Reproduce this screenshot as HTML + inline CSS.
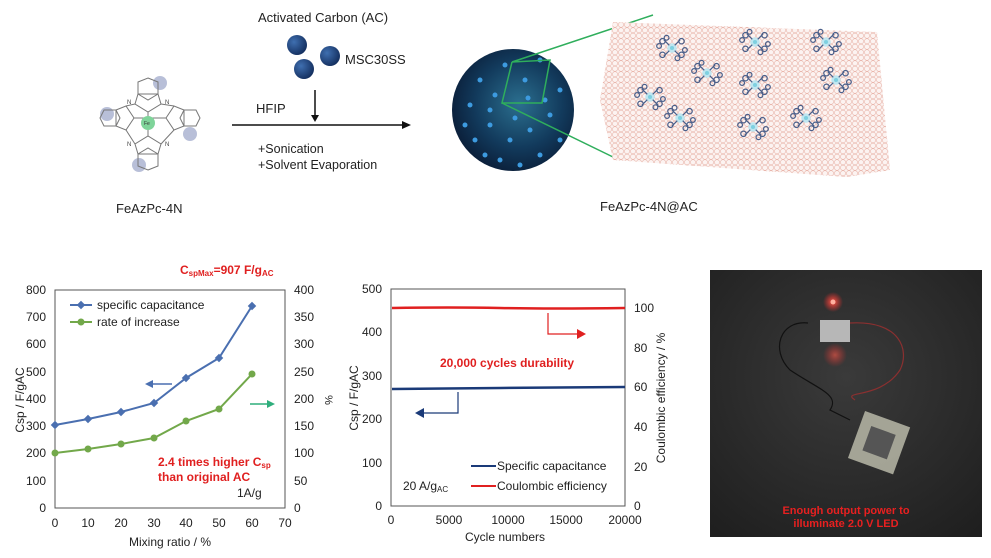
<!DOCTYPE html>
<html><head><meta charset="utf-8"><style>
body{margin:0;background:#fff;}
svg{display:block;font-family:"Liberation Sans",sans-serif;}
</style></head><body>
<svg width="991" height="558" viewBox="0 0 991 558" xmlns="http://www.w3.org/2000/svg">
<defs>
<radialGradient id="sph" cx="0.55" cy="0.45" r="0.6">
<stop offset="0" stop-color="#2b6f8f"/><stop offset="0.6" stop-color="#123a5c"/><stop offset="1" stop-color="#0a1c36"/></radialGradient>
<radialGradient id="ball" cx="0.35" cy="0.35" r="0.7"><stop offset="0" stop-color="#3f6fb0"/><stop offset="1" stop-color="#132e5e"/></radialGradient>
<pattern id="hex" width="6" height="5.5" patternUnits="userSpaceOnUse"><circle cx="3" cy="2.75" r="2.6" fill="none" stroke="#e9b7ad" stroke-width="0.6"/></pattern>
<radialGradient id="photo" cx="0.5" cy="0.4" r="0.75"><stop offset="0" stop-color="#3a3a3a"/><stop offset="1" stop-color="#1f1f1f"/></radialGradient>
<radialGradient id="glow" r="0.5"><stop offset="0" stop-color="#ff5a4a"/><stop offset="1" stop-color="#ff2a2a" stop-opacity="0"/></radialGradient>
<g id="mol0">
<circle r="7" fill="#bfe6f0"/>
<g stroke="#4a5f8a" stroke-width="1.8" fill="none">
<path d="M-4,-4 L-12,-12 M4,-4 L12,-12 M-4,4 L-12,12 M4,4 L12,12"/>
<circle cx="-14" cy="-10" r="4"/><circle cx="14" cy="-10" r="4"/><circle cx="-14" cy="10" r="4"/><circle cx="14" cy="10" r="4"/>
<circle cx="-8" cy="-15" r="3.5"/><circle cx="8" cy="15" r="3.5"/><circle cx="19" cy="3" r="3.5"/><circle cx="-19" cy="-3" r="3.5"/>
</g>
<circle r="3" fill="#7fd0e0"/>
</g>
<g id="mol"><use href="#mol0" transform="scale(0.68)"/></g>
</defs>

<!-- top scheme -->
<text x="258" y="22" font-size="13" fill="#222">Activated Carbon (AC)</text>
<circle cx="297" cy="45" r="10" fill="url(#ball)"/>
<circle cx="330" cy="56" r="10" fill="url(#ball)"/>
<circle cx="304" cy="69" r="10" fill="url(#ball)"/>
<text x="345" y="64" font-size="13" fill="#222">MSC30SS</text>
<line x1="315" y1="90" x2="315" y2="118" stroke="#111" stroke-width="1.5"/>
<polygon points="311,115 319,115 315,122" fill="#111"/>
<line x1="232" y1="125" x2="405" y2="125" stroke="#111" stroke-width="1.5"/>
<polygon points="402,121 411,125 402,129" fill="#111"/>
<text x="256" y="113" font-size="13" fill="#222">HFIP</text>
<text x="258" y="153" font-size="12.5" fill="#222">+Sonication</text>
<text x="258" y="169" font-size="12.5" fill="#222">+Solvent Evaporation</text>
<text x="116" y="213" font-size="13" fill="#222">FeAzPc-4N</text>

<!-- molecule -->
<circle cx="160" cy="83" r="7" fill="#b8bfd8"/>
<circle cx="107" cy="114" r="7" fill="#b8bfd8"/>
<circle cx="190" cy="134" r="7" fill="#b8bfd8"/>
<circle cx="139" cy="165" r="7" fill="#b8bfd8"/>
<g stroke="#777" stroke-width="1" fill="none">
<polygon points="148,78 158,82 158,94 148,100 138,94 138,82"/>
<polygon points="138,94 158,94 161,104 148,112 135,104"/>
<polygon points="100,118 104,110 116,110 120,118 116,126 104,126"/>
<polygon points="116,110 126,106 134,118 126,130 116,126"/>
<polygon points="180,118 184,110 196,110 200,118 196,126 184,126"/>
<polygon points="184,110 174,106 166,118 174,130 184,126"/>
<polygon points="148,170 158,166 158,154 148,148 138,154 138,166"/>
<polygon points="138,154 158,154 161,144 148,136 135,144"/>
<line x1="126" y1="106" x2="135" y2="104"/><line x1="161" y1="104" x2="174" y2="106"/>
<line x1="126" y1="130" x2="135" y2="144"/><line x1="161" y1="144" x2="174" y2="130"/>
<line x1="148" y1="112" x2="148" y2="136"/><line x1="134" y1="118" x2="166" y2="118"/>
</g>
<g font-size="6" fill="#444">
<text x="127" y="104">N</text><text x="165" y="104">N</text><text x="127" y="146">N</text><text x="165" y="146">N</text>
</g>
<circle cx="148" cy="123" r="7" fill="#7fd49a"/>
<text x="144" y="125" font-size="5" fill="#333">Fe</text>

<!-- sphere -->
<circle cx="513" cy="110" r="61" fill="url(#sph)"/>
<g fill="#3d9be0">
<circle cx="480" cy="80" r="2.5"/><circle cx="495" cy="95" r="2.5"/><circle cx="470" cy="105" r="2.5"/><circle cx="490" cy="125" r="2.5"/><circle cx="510" cy="140" r="2.5"/><circle cx="530" cy="130" r="2.5"/><circle cx="550" cy="115" r="2.5"/><circle cx="560" cy="90" r="2.5"/><circle cx="525" cy="80" r="2.5"/><circle cx="528" cy="98" r="2.5"/><circle cx="475" cy="140" r="2.5"/><circle cx="500" cy="160" r="2.5"/><circle cx="540" cy="155" r="2.5"/><circle cx="560" cy="140" r="2.5"/><circle cx="465" cy="125" r="2.5"/><circle cx="505" cy="65" r="2.5"/><circle cx="540" cy="60" r="2.5"/><circle cx="515" cy="118" r="2.5"/><circle cx="485" cy="155" r="2.5"/><circle cx="520" cy="165" r="2.5"/><circle cx="545" cy="100" r="2.5"/><circle cx="490" cy="110" r="2.5"/>
</g>
<polyline points="653,15 512,62 550,60 542,103 502,103 512,62" fill="none" stroke="#2fae5c" stroke-width="1.5"/>
<line x1="502" y1="103" x2="613" y2="157" stroke="#2fae5c" stroke-width="1.5"/>
<!-- sheet -->
<polygon points="613,22 877,32 890,170 847,177 613,160 600,100" fill="#fcf3f1"/>
<polygon points="613,22 877,32 890,170 847,177 613,160 600,100" fill="url(#hex)"/>
<use href="#mol" x="672" y="48"/><use href="#mol" x="755" y="42"/><use href="#mol" x="826" y="42"/>
<use href="#mol" x="707" y="73"/><use href="#mol" x="755" y="85"/><use href="#mol" x="836" y="80"/>
<use href="#mol" x="650" y="97"/><use href="#mol" x="680" y="118"/><use href="#mol" x="753" y="127"/><use href="#mol" x="806" y="118"/>
<text x="600" y="211" font-size="13" fill="#222">FeAzPc-4N@AC</text>

<!-- left chart -->
<text x="180" y="274" font-size="12" font-weight="bold" fill="#e02020">C<tspan font-size="8" dy="2">spMax</tspan><tspan dy="-2">=907 F/g</tspan><tspan font-size="8" dy="2">AC</tspan></text>
<rect x="55" y="290" width="230" height="218" fill="none" stroke="#555" stroke-width="1"/>
<g font-size="12" fill="#222" text-anchor="end">
<text x="46" y="512">0</text><text x="46" y="485">100</text><text x="46" y="457">200</text><text x="46" y="430">300</text><text x="46" y="403">400</text><text x="46" y="376">500</text><text x="46" y="348">600</text><text x="46" y="321">700</text><text x="46" y="294">800</text>
</g>
<g font-size="12" fill="#222">
<text x="294" y="512">0</text><text x="294" y="485">50</text><text x="294" y="457">100</text><text x="294" y="430">150</text><text x="294" y="403">200</text><text x="294" y="376">250</text><text x="294" y="348">300</text><text x="294" y="321">350</text><text x="294" y="294">400</text>
</g>
<g font-size="12" fill="#222" text-anchor="middle">
<text x="55" y="527">0</text><text x="88" y="527">10</text><text x="121" y="527">20</text><text x="154" y="527">30</text><text x="186" y="527">40</text><text x="219" y="527">50</text><text x="252" y="527">60</text><text x="285" y="527">70</text>
<text x="170" y="546">Mixing ratio / %</text>
</g>
<text transform="translate(24,400) rotate(-90)" font-size="12" fill="#222" text-anchor="middle">Csp / F/gAC</text>
<text transform="translate(325,400) rotate(90)" font-size="11" fill="#222" text-anchor="middle">%</text>
<polyline points="55,425 88,419 121,412 154,403 186,378 219,358 252,306" fill="none" stroke="#4a6fb0" stroke-width="2"/>
<g fill="#4a6fb0"><rect x="52" y="422" width="6" height="6" transform="rotate(45 55 425)"/><rect x="85" y="416" width="6" height="6" transform="rotate(45 88 419)"/><rect x="118" y="409" width="6" height="6" transform="rotate(45 121 412)"/><rect x="151" y="400" width="6" height="6" transform="rotate(45 154 403)"/><rect x="183" y="375" width="6" height="6" transform="rotate(45 186 378)"/><rect x="216" y="355" width="6" height="6" transform="rotate(45 219 358)"/><rect x="249" y="303" width="6" height="6" transform="rotate(45 252 306)"/></g>
<polyline points="55,453 88,449 121,444 154,438 186,421 219,409 252,374" fill="none" stroke="#72a84a" stroke-width="2"/>
<g fill="#72a84a"><circle cx="55" cy="453" r="3.5"/><circle cx="88" cy="449" r="3.5"/><circle cx="121" cy="444" r="3.5"/><circle cx="154" cy="438" r="3.5"/><circle cx="186" cy="421" r="3.5"/><circle cx="219" cy="409" r="3.5"/><circle cx="252" cy="374" r="3.5"/></g>
<line x1="70" y1="305" x2="92" y2="305" stroke="#4a6fb0" stroke-width="2"/><rect x="78" y="302" width="6" height="6" fill="#4a6fb0" transform="rotate(45 81 305)"/>
<text x="97" y="309" font-size="12" fill="#222">specific capacitance</text>
<line x1="70" y1="322" x2="92" y2="322" stroke="#72a84a" stroke-width="2"/><circle cx="81" cy="322" r="3.5" fill="#72a84a"/>
<text x="97" y="326" font-size="12" fill="#222">rate of increase</text>
<line x1="152" y1="384" x2="172" y2="384" stroke="#4a6fb0" stroke-width="1.5"/><polygon points="145,384 153,380 153,388" fill="#4a6fb0"/>
<line x1="250" y1="404" x2="268" y2="404" stroke="#2fae7c" stroke-width="1.5"/><polygon points="275,404 267,400 267,408" fill="#2fae7c"/>
<text x="158" y="466" font-size="12" font-weight="bold" fill="#e02020">2.4 times higher C<tspan font-size="8" dy="2">sp</tspan></text>
<text x="158" y="481" font-size="12" font-weight="bold" fill="#e02020">than original AC</text>
<text x="237" y="497" font-size="12" fill="#222">1A/g</text>

<!-- middle chart -->
<rect x="391" y="289" width="234" height="217" fill="none" stroke="#555"/>
<g font-size="12" fill="#222" text-anchor="end">
<text x="382" y="510">0</text><text x="382" y="467">100</text><text x="382" y="423">200</text><text x="382" y="380">300</text><text x="382" y="336">400</text><text x="382" y="293">500</text>
</g>
<g font-size="12" fill="#222">
<text x="634" y="510">0</text><text x="634" y="471">20</text><text x="634" y="431">40</text><text x="634" y="391">60</text><text x="634" y="352">80</text><text x="634" y="312">100</text>
</g>
<g font-size="12" fill="#222" text-anchor="middle">
<text x="391" y="524">0</text><text x="449" y="524">5000</text><text x="508" y="524">10000</text><text x="566" y="524">15000</text><text x="625" y="524">20000</text>
<text x="505" y="541">Cycle numbers</text>
</g>
<text transform="translate(358,398) rotate(-90)" font-size="12" fill="#222" text-anchor="middle">Csp / F/gAC</text>
<text transform="translate(665,398) rotate(-90)" font-size="12" fill="#222" text-anchor="middle">Coulombic efficiency / %</text>
<path d="M392,308 Q450,307 500,308 T625,308" fill="none" stroke="#e02020" stroke-width="2.5"/>
<path d="M392,389 L500,388 L625,387" fill="none" stroke="#1a3a78" stroke-width="2.5"/>
<polyline points="548,313 548,334 578,334" fill="none" stroke="#e02020" stroke-width="1.2"/>
<polygon points="586,334 577,329 577,339" fill="#e02020"/>
<polyline points="458,392 458,413 424,413" fill="none" stroke="#1a3a78" stroke-width="1.2"/>
<polygon points="415,413 424,408 424,418" fill="#1a3a78"/>
<text x="440" y="367" font-size="12" font-weight="bold" fill="#e02020">20,000 cycles durability</text>
<line x1="471" y1="466" x2="496" y2="466" stroke="#1a3a78" stroke-width="2"/>
<text x="497" y="470" font-size="12" fill="#222">Specific capacitance</text>
<line x1="471" y1="486" x2="496" y2="486" stroke="#e02020" stroke-width="2"/>
<text x="497" y="490" font-size="12" fill="#222">Coulombic efficiency</text>
<text x="403" y="490" font-size="12" fill="#222">20 A/g<tspan font-size="8" dy="2">AC</tspan></text>

<!-- photo -->
<rect x="710" y="270" width="272" height="267" fill="url(#photo)"/>
<circle cx="833" cy="302" r="10" fill="url(#glow)"/>
<circle cx="833" cy="302" r="2.5" fill="#ffb0a0"/>
<circle cx="835" cy="355" r="12" fill="url(#glow)" opacity="0.6"/>
<rect x="820" y="320" width="30" height="22" fill="#d8d8d8" opacity="0.8"/>
<path d="M808,323 C780,320 770,350 790,370 C820,390 840,395 830,410 L850,420" fill="none" stroke="#111" stroke-width="1.2"/>
<path d="M850,323 C900,320 910,350 900,370 C880,400 840,390 855,400" fill="none" stroke="#8a3030" stroke-width="1.2"/>
<g transform="rotate(20 880 443)"><rect x="855" y="418" width="48" height="50" fill="#b8b8a8" opacity="0.85"/><rect x="866" y="430" width="26" height="26" fill="#555"/></g>
<text x="846" y="514" font-size="11" font-weight="bold" fill="#e82020" text-anchor="middle">Enough output power to</text>
<text x="846" y="527" font-size="11" font-weight="bold" fill="#e82020" text-anchor="middle">illuminate 2.0  V LED</text>
</svg>
</body></html>
